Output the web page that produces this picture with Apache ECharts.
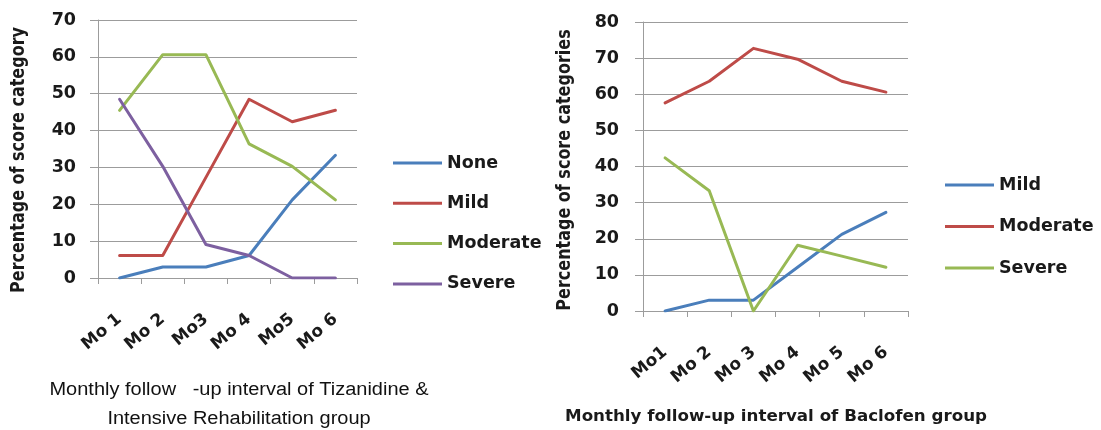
<!DOCTYPE html>
<html>
<head>
<meta charset="utf-8">
<script src="https://cdn.jsdelivr.net/npm/echarts@6/dist/echarts.min.js"></script>
<style>
  html, body { margin: 0; padding: 0; background: #ffffff; }
  #chart { width: 1101px; height: 430px; }
</style>
</head>
<body>
<div id="chart"></div>
<script>
// Tizanidine & intensive rehabilitation group (% of patients per score category)
const monthsTiz = ['Mo 1', 'Mo 2', 'Mo3', 'Mo 4', 'Mo5', 'Mo 6'];
const tizNone     = [0, 3.0, 3.0, 6.1, 21.2, 33.3];
const tizMild     = [6.1, 6.1, 27.3, 48.5, 42.4, 45.5];
const tizModerate = [45.5, 60.6, 60.6, 36.4, 30.3, 21.2];
const tizSevere   = [48.5, 30.3, 9.1, 6.1, 0, 0];

// Baclofen group (% of patients per score category)
const monthsBac = ['Mo1', 'Mo 2', 'Mo 3', 'Mo 4', 'Mo 5', 'Mo 6'];
const bacMild     = [0, 3.0, 3.0, 12.1, 21.2, 27.3];
const bacModerate = [57.6, 63.6, 72.7, 69.7, 63.6, 60.6];
const bacSevere   = [42.4, 33.3, 0, 18.2, 15.2, 12.1];

const BLUE = '#4a7ebb', RED = '#be4b48', GREEN = '#98b954', PURPLE = '#7d60a0';
const GRID_GRAY = '#9c9c9c';
const TEXT = '#1a1a1a';
const BOLD_FONT = 'DejaVu Sans';

function xAxisFor(gridIndex, data) {
  return {
    type: 'category', gridIndex, data, boundaryGap: true,
    axisLine: { show: true, lineStyle: { color: GRID_GRAY, width: 1 } },
    axisTick: { show: true, length: 6, alignWithLabel: false, lineStyle: { color: GRID_GRAY } },
    axisLabel: {
      interval: 0, rotate: 40, margin: 39,
      fontFamily: BOLD_FONT, fontWeight: 'bold', fontSize: 17, color: TEXT
    },
    splitLine: { show: false }
  };
}

function yAxisFor(gridIndex, max, margin) {
  return {
    type: 'value', gridIndex, min: 0, max, interval: 10,
    axisLine: { show: true, lineStyle: { color: GRID_GRAY, width: 1 } },
    axisTick: { show: true, length: 8, lineStyle: { color: GRID_GRAY } },
    axisLabel: { margin, fontFamily: BOLD_FONT, fontWeight: 'bold', fontSize: 17.5, color: TEXT },
    splitLine: { show: true, lineStyle: { color: GRID_GRAY, width: 1 } }
  };
}

function lineSeries(name, data, color, axisIndex) {
  return {
    type: 'line', name, data, xAxisIndex: axisIndex, yAxisIndex: axisIndex,
    symbol: 'none', showSymbol: false, smooth: false,
    lineStyle: { color, width: 3, join: 'round', cap: 'round' },
    itemStyle: { color }
  };
}

function legendFor(left, top, gap, items) {
  return {
    orient: 'vertical', left, top, padding: 0,
    icon: 'rect', itemWidth: 49, itemHeight: 3, itemGap: gap,
    selectedMode: false,
    itemStyle: { borderWidth: 0 },
    textStyle: { fontFamily: BOLD_FONT, fontWeight: 'bold', fontSize: 17.5, lineHeight: 20, color: TEXT },
    data: items.map(([name, color]) => ({ name, itemStyle: { color, borderWidth: 0 } }))
  };
}

const chart = echarts.init(document.getElementById('chart'), null, { renderer: 'canvas' });

chart.setOption({
  animation: false,
  backgroundColor: '#ffffff',
  grid: [
    { left: 98, top: 20, width: 259, height: 258 },
    { left: 643, top: 22, width: 265, height: 289 }
  ],
  xAxis: [xAxisFor(0, monthsTiz), xAxisFor(1, monthsBac)],
  yAxis: [yAxisFor(0, 70, 22), yAxisFor(1, 80, 24)],
  legend: [
    legendFor(393, 153, 20.3, [['None', BLUE], ['Mild', RED], ['Moderate', GREEN], ['Severe', PURPLE]]),
    legendFor(945, 175, 21.5, [['Mild', BLUE], ['Moderate', RED], ['Severe', GREEN]])
  ],
  series: [
    lineSeries('None', tizNone, BLUE, 0),
    lineSeries('Mild', tizMild, RED, 0),
    lineSeries('Moderate', tizModerate, GREEN, 0),
    lineSeries('Severe', tizSevere, PURPLE, 0),
    lineSeries('Mild', bacMild, BLUE, 1),
    lineSeries('Moderate', bacModerate, RED, 1),
    lineSeries('Severe', bacSevere, GREEN, 1)
  ],
  graphic: [
    {
      type: 'text', x: 19, y: 160, rotation: Math.PI / 2, scaleY: 1.2,
      style: { text: 'Percentage of score category', fontFamily: BOLD_FONT, fontWeight: 'bold',
               fontSize: 16, fill: TEXT, align: 'center', verticalAlign: 'middle' }
    },
    {
      type: 'text', x: 565, y: 170, rotation: Math.PI / 2, scaleY: 1.2,
      style: { text: 'Percentage of score categories', fontFamily: BOLD_FONT, fontWeight: 'bold',
               fontSize: 16, fill: TEXT, align: 'center', verticalAlign: 'middle' }
    },
    {
      type: 'text', x: 239, y: 390, scaleX: 1.11,
      style: { text: 'Monthly follow   -up interval of Tizanidine &', fontFamily: 'Liberation Sans',
               fontSize: 18, fill: '#111111', align: 'center', verticalAlign: 'middle' }
    },
    {
      type: 'text', x: 239, y: 419, scaleX: 1.11,
      style: { text: 'Intensive Rehabilitation group', fontFamily: 'Liberation Sans',
               fontSize: 18, fill: '#111111', align: 'center', verticalAlign: 'middle' }
    },
    {
      type: 'text', x: 776, y: 417,
      style: { text: 'Monthly follow-up interval of Baclofen group', fontFamily: BOLD_FONT, fontWeight: 'bold',
               fontSize: 16.7, fill: TEXT, align: 'center', verticalAlign: 'middle' }
    }
  ]
});
</script>
</body>
</html>
